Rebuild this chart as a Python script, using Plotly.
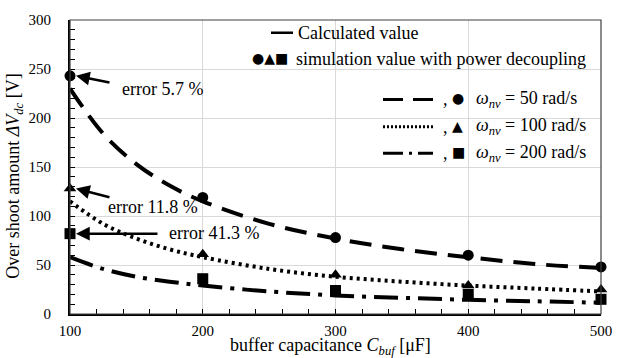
import plotly.graph_objects as go

# ---- data ----
cap_sim = [100, 200, 300, 400, 500]
sim_50 = [243, 119, 78, 60, 48]
sim_100 = [128, 61, 40, 29, 25]
sim_200 = [82, 36, 24, 20, 15]

cap_calc = [100, 125, 150, 175, 200, 250, 300, 350, 400, 450, 500]
calc_50 = [230, 184, 153, 131, 115, 92, 77, 66, 58, 51, 47]
calc_100 = [115, 92, 77, 66, 58, 46, 38, 33, 29, 26, 23]
calc_200 = [58, 46, 38, 33, 29, 23, 19, 16.5, 14.5, 13, 11.5]

x_ticks = [100, 200, 300, 400, 500]
y_ticks = [0, 50, 100, 150, 200, 250, 300]

FONT = "Liberation Serif"
SYM = "DejaVu Sans"

# plot area in pixels (for placing the hand-drawn legend)
L, R, T, B = 70, 601, 14, 314
W, H = 630, 358

def px(xp):
    return (xp - L) / float(R - L)

def py(yp):
    return (B - yp) / float(B - T)

fig = go.Figure()

styles = [("22px,11px", calc_50, sim_50, "circle"),
          ("3px,4px", calc_100, sim_100, "triangle-up"),
          ("24px,8px,4px,8px", calc_200, sim_200, "square")]
for dash, calc, sim, sym in styles:
    fig.add_trace(go.Scatter(x=cap_calc, y=calc, mode="lines", line_shape="spline",
                             line=dict(color="black", width=4, dash=dash),
                             showlegend=False, hoverinfo="skip", cliponaxis=False))
    fig.add_trace(go.Scatter(x=cap_sim, y=sim, mode="markers",
                             marker=dict(symbol=sym, size=11, color="black"),
                             showlegend=False, cliponaxis=False))

# error arrows (tip at data point, tail offset in px)
arrows = [(104.5, 243, 35, 7), (104.5, 128, 35, 9), (104.5, 82, 83, 0)]
for x, y, ax, ay in arrows:
    fig.add_annotation(x=x, y=y, ax=ax, ay=ay, text="", showarrow=True,
                       arrowhead=2, arrowsize=1.1, arrowwidth=2.5, arrowcolor="black")

errs = [(137.7, 230, "error 5.7 %"), (127.2, 109, "error 11.8 %"), (173.2, 83, "error 41.3 %")]
for x, y, t in errs:
    fig.add_annotation(x=x, y=y, text=t, showarrow=False, xanchor="left", yanchor="middle",
                       font=dict(family=FONT, size=18, color="black"))

# plot border
fig.add_shape(type="rect", xref="paper", yref="paper", x0=0, y0=0, x1=1, y1=1,
              line=dict(color="#404040", width=1.2))

# ---- legend (drawn manually) ----
fig.add_shape(type="line", xref="paper", yref="paper", x0=px(271), x1=px(293),
              y0=py(27), y1=py(27), line=dict(color="black", width=2.5))
fig.add_annotation(xref="paper", yref="paper", x=px(296), y=py(27), text="Calculated value",
                   showarrow=False, xanchor="left", yanchor="middle",
                   font=dict(family=FONT, size=18, color="black"))
fig.add_annotation(xref="paper", yref="paper", x=px(250), y=py(53), text="●▲■",
                   showarrow=False, xanchor="left", yanchor="middle",
                   font=dict(family=SYM, size=14, color="black"))
fig.add_annotation(xref="paper", yref="paper", x=px(294), y=py(54),
                   text="simulation value with power decoupling",
                   showarrow=False, xanchor="left", yanchor="middle",
                   font=dict(family=FONT, size=18, color="black"))

leg = [("20px,10px", "●", "50", 95), ("2px,2px", "▲", "100", 123), ("20px,6px,3px,6px", "■", "200", 150)]
for dash, mk, val, yp in leg:
    fig.add_shape(type="line", xref="paper", yref="paper", x0=px(383), x1=px(433),
                  y0=py(yp), y1=py(yp), line=dict(color="black", width=3, dash=dash))
    fig.add_annotation(xref="paper", yref="paper", x=px(441), y=py(yp), text=",",
                       showarrow=False, xanchor="left", yanchor="middle",
                       font=dict(family=FONT, size=18, color="black"))
    fig.add_annotation(xref="paper", yref="paper", x=px(450), y=py(yp - 1), text=mk,
                       showarrow=False, xanchor="left", yanchor="middle",
                       font=dict(family=SYM, size=14, color="black"))
    fig.add_annotation(xref="paper", yref="paper", x=px(474), y=py(yp),
                       text="<i>ω</i><sub><i>nv</i></sub> = " + val + " rad/s",
                       showarrow=False, xanchor="left", yanchor="middle",
                       font=dict(family=FONT, size=18, color="black"))

# axis titles
fig.add_annotation(xref="paper", yref="paper", x=px(330), y=py(347),
                   text="buffer capacitance <i>C</i><sub><i>buf</i></sub> [μF]",
                   showarrow=False, xanchor="center", yanchor="middle",
                   font=dict(family=FONT, size=18, color="black"))
fig.add_annotation(xref="paper", yref="paper", x=px(15), y=py(174), textangle=-90,
                   text="Over shoot amount <i>ΔV</i><sub><i>dc</i></sub> [V]",
                   showarrow=False, xanchor="center", yanchor="middle",
                   font=dict(family=FONT, size=18, color="black"))

fig.update_layout(
    width=W, height=H,
    margin=dict(l=L, r=W - R, t=T, b=H - B, pad=0),
    paper_bgcolor="white", plot_bgcolor="white",
    font=dict(family=FONT, size=15, color="black"),
    showlegend=False,
    xaxis=dict(range=[100, 500], tickvals=x_ticks, showgrid=True, gridcolor="#d9d9d9",
               gridwidth=1.2, zeroline=False, showline=True, linecolor="black", linewidth=2,
               ticks="inside", ticklen=5, tickcolor="black", tickwidth=1.2,
               minor=dict(dtick=20, ticks="inside", ticklen=5, tickcolor="black", showgrid=False),
               tickfont=dict(family=FONT, size=15, color="black"), ticklabelstandoff=2),
    yaxis=dict(range=[0, 300], tickvals=y_ticks, showgrid=True, gridcolor="#d9d9d9", gridwidth=1.2,
               zeroline=False, showline=True, linecolor="black", linewidth=2,
               ticks="inside", ticklen=5, tickcolor="black", tickwidth=1.2,
               minor=dict(dtick=10, ticks="inside", ticklen=5, tickcolor="black", showgrid=False),
               tickfont=dict(family=FONT, size=15, color="black"), ticklabelstandoff=14),
)

fig.write_html("out.html")
